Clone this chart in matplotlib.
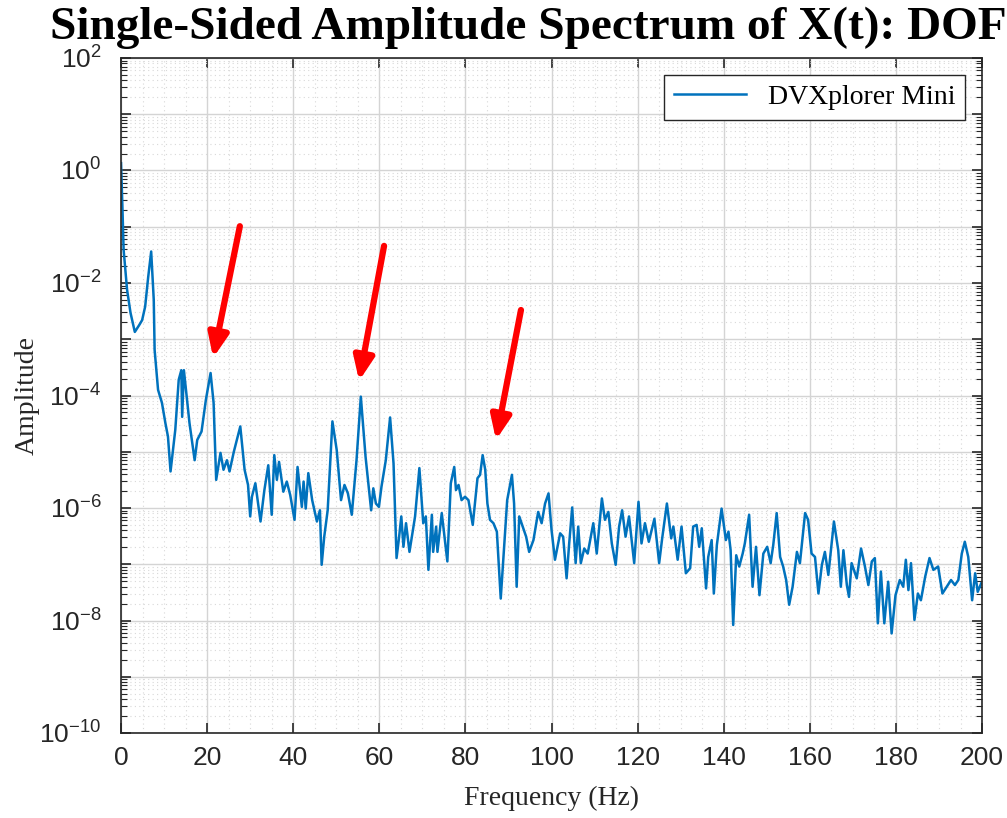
import matplotlib
matplotlib.use('Agg')
import matplotlib.pyplot as plt
import numpy as np
from matplotlib.ticker import MultipleLocator, LogLocator, NullFormatter

plt.rcParams['mathtext.fontset'] = 'custom'
plt.rcParams['mathtext.rm'] = 'Liberation Sans'
plt.rcParams['mathtext.it'] = 'Liberation Sans:italic'

# Frequencia (Hz) e log10 da amplitude
freq = [0.0, 0.3, 0.6, 1.4, 2.2, 3.2, 4.2, 4.9, 5.6, 6.3, 7.0, 7.6, 7.8, 8.6,
        9.5, 10.3, 10.9, 11.5, 12.6, 13.4, 14.0, 14.2, 14.6, 15.9, 17.1, 17.7,
        18.7, 19.7, 20.8, 21.5, 22.1, 23.1, 23.8, 24.6, 25.2, 26.2, 27.7, 28.7,
        29.5, 30.0, 30.4, 31.2, 32.4, 33.3, 34.2, 35.0, 35.6, 36.2, 36.7, 37.7,
        38.5, 39.3, 40.3, 41.0, 42.0, 42.4, 42.9, 43.5, 44.4, 45.5, 46.2, 46.6,
        47.2, 48.0, 49.1, 50.1, 51.1, 51.9, 52.7, 53.6, 54.7, 55.7, 56.8, 58.1,
        58.6, 59.2, 59.9, 60.5, 61.5, 62.5, 63.3, 64.0, 64.6, 65.1, 65.6, 66.2,
        67.0, 68.3, 69.3, 70.2, 70.8, 71.4, 72.2, 72.5, 73.2, 73.5, 74.5, 75.8,
        76.6, 77.4, 77.8, 78.4, 79.1, 79.9, 80.7, 81.7, 82.8, 83.4, 84.0, 84.6,
        85.1, 85.7, 86.5, 87.3, 88.2, 89.0, 89.7, 90.8, 91.3, 91.9, 92.5, 93.3,
        94.1, 94.8, 95.8, 96.9, 97.7, 98.5, 99.3, 100.0, 100.8, 102.0, 102.7,
        103.5, 104.1, 104.8, 105.6, 106.2, 106.8, 107.6, 108.4, 109.7, 110.5,
        111.7, 112.4, 113.2, 114.0, 114.9, 115.7, 116.4, 117.2, 118.0, 119.2,
        120.2, 120.9, 121.7, 122.6, 123.9, 125.0, 125.7, 126.8, 127.8, 128.3,
        129.3, 130.2, 131.2, 132.2, 132.9, 133.7, 134.3, 134.9, 135.9, 136.4,
        137.2, 137.7, 138.4, 139.5, 140.5, 141.1, 141.6, 142.2, 142.9, 143.6,
        144.4, 144.9, 145.9, 146.7, 147.5, 148.3, 149.2, 150.1, 150.9, 151.5,
        152.3, 153.1, 153.8, 154.5, 155.2, 156.0, 157.0, 157.7, 158.9, 159.6,
        160.4, 161.2, 162.0, 162.8, 163.5, 164.3, 165.6, 166.6, 167.2, 167.8,
        168.6, 169.1, 169.7, 170.9, 171.9, 172.8, 173.6, 174.4, 175.1, 175.8,
        176.5, 177.3, 178.2, 179.0, 179.9, 180.9, 181.7, 182.3, 182.9, 183.5,
        184.3, 185.1, 185.8, 186.8, 187.8, 188.7, 189.8, 190.8, 191.8, 192.8,
        193.7, 194.5, 195.3, 196.0, 196.8, 197.7, 198.4, 199.0, 199.8]
log_amp = [0.13, -0.6, -1.41, -2.12, -2.53, -2.87, -2.75, -2.66, -2.42, -1.9, -1.44, -2.30, -3.19, -3.90,
           -4.13, -4.49, -4.73, -5.35, -4.61, -3.72, -3.55, -4.38, -3.55, -4.49, -5.15, -4.79,
           -4.64, -4.08, -3.60, -4.13, -5.50, -5.02, -5.32, -5.15, -5.35, -5.00, -4.55, -5.32,
           -5.59, -6.15, -5.80, -5.56, -6.24, -5.68, -5.24, -6.12, -5.06, -5.50, -5.18, -5.71,
           -5.53, -5.77, -6.21, -5.27, -5.98, -5.53, -6.01, -5.38, -5.86, -6.24, -6.04, -7.01,
           -6.51, -6.04, -4.46, -4.97, -5.86, -5.59, -5.74, -6.12, -5.15, -4.02, -5.09, -6.04,
           -5.65, -5.92, -5.98, -5.62, -5.15, -4.39, -5.21, -6.89, -6.51, -6.15, -6.69, -6.27,
           -6.78, -6.15, -5.29, -6.27, -6.15, -7.10, -6.12, -6.78, -6.33, -6.78, -6.09, -6.95,
           -5.56, -5.27, -5.68, -5.59, -5.86, -5.80, -5.86, -6.30, -5.47, -5.41, -5.06, -5.32,
           -5.92, -6.21, -6.27, -6.42, -7.61, -6.69, -5.86, -5.41, -5.92, -7.40, -6.15, -6.33,
           -6.51, -6.78, -6.57, -6.07, -6.27, -5.92, -5.74, -6.39, -6.92, -6.45, -6.51,
           -7.25, -6.63, -5.99, -6.98, -6.33, -6.98, -6.72, -6.81, -6.27, -6.81,
           -5.83, -6.21, -6.07, -6.63, -7.01, -6.33, -6.04, -6.51, -6.15, -6.98,
           -5.89, -6.63, -6.27, -6.60, -6.19, -6.98, -6.54, -5.92, -6.54, -6.33,
           -6.92, -6.33, -7.16, -7.07, -6.33, -6.30, -6.69, -6.36, -7.43, -6.87,
           -6.57, -7.52, -6.66, -6.01, -6.57, -6.42, -6.75, -8.08, -6.84, -7.04,
           -6.81, -6.63, -6.12, -7.40, -6.69, -7.55, -6.81, -6.69, -6.98, -6.66,
           -6.09, -6.87, -7.04, -7.28, -7.72, -7.40, -6.78, -6.98, -6.09, -6.21,
           -6.81, -6.87, -7.52, -7.01, -6.78, -7.19, -6.24, -6.75, -7.40, -6.75,
           -7.37, -7.58, -6.98, -7.25, -6.72, -7.04, -7.37, -6.95, -6.89, -8.05,
           -7.13, -8.05, -7.31, -8.23, -7.55, -7.28, -7.40, -6.92, -7.46, -6.98,
           -7.99, -7.52, -7.64, -7.22, -6.89, -7.10, -7.04, -7.52, -7.40, -7.28,
           -7.37, -7.28, -6.81, -6.60, -6.87, -7.64, -7.16, -7.49, -7.34]

amp = 10.0 ** np.array(log_amp)

# setas vermelhas: (x_cauda, log_cauda, x_ponta, log_ponta)
setas = [(27.6, -0.99, 21.4, -3.33),
         (61.1, -1.34, 55.3, -3.74),
         (92.9, -2.48, 87.1, -4.79)]

fig = plt.figure(figsize=(10.07, 8.18), dpi=100)
ax = fig.add_axes([0.1202, 0.1039, 0.855, 0.8252])

ax.semilogy(freq, amp, color='#0072BD', lw=1.8, label='DVXplorer Mini')

for xt, lt, xh, lh in setas:
    ax.annotate('', xy=(xh, 10 ** lh), xytext=(xt, 10 ** lt),
                arrowprops=dict(arrowstyle='-|>,head_length=1.4,head_width=0.6',
                                color='#ff0000', lw=4.5, shrinkA=0, shrinkB=0))

ax.set_xlim(0, 200)
ax.set_ylim(1e-10, 1e2)
ax.xaxis.set_major_locator(MultipleLocator(20))
ax.xaxis.set_minor_locator(MultipleLocator(5))
ax.yaxis.set_major_locator(LogLocator(base=10, subs=(1.0,), numticks=20))
ax.yaxis.set_major_formatter(matplotlib.ticker.FuncFormatter(
    lambda v, p: r'$10^{%d}$' % round(np.log10(v)) if round(np.log10(v)) % 2 == 0 else ''))
ax.yaxis.set_minor_locator(LogLocator(base=10, subs=np.arange(2, 10), numticks=20))
ax.yaxis.set_minor_formatter(NullFormatter())

ax.grid(True, which='major', color='#d4d4d4', lw=1.0)
ax.grid(True, which='minor', color='#d8d8d8', lw=0.8, linestyle=(0, (1, 3)))
ax.tick_params(which='both', direction='in', top=True, right=True, labelsize=19,
               colors='#262626')
ax.tick_params(which='major', length=7, width=1.2)
ax.tick_params(which='minor', length=4, width=0.8)
ax.tick_params(axis='x', which='minor', length=0)
ax.tick_params(axis='x', which='major', pad=9)
ax.tick_params(axis='y', which='major', pad=14)
for s in ax.spines.values():
    s.set_color('#262626')
    s.set_linewidth(1.2)
for lab in ax.get_xticklabels():
    lab.set_fontfamily('Liberation Sans')

ax.set_xlabel('Frequency (Hz)', family='Liberation Serif', fontsize=20, color='#262626',
              labelpad=12)
ax.set_ylabel('Amplitude', family='Liberation Serif', fontsize=20, color='#262626',
              labelpad=0)

leg = ax.legend(loc='upper right', prop={'family': 'Liberation Serif', 'size': 20},
                fancybox=False, framealpha=1, edgecolor='#262626',
                handlelength=2.6, borderaxespad=0.6, borderpad=0.35)
leg.get_frame().set_linewidth(1.0)

fig.text(0.05, 1 - 39 / 818, 'Single-Sided Amplitude Spectrum of X(t): DOF',
         family='Liberation Serif', weight='bold', fontsize=34, ha='left', va='baseline')

fig.savefig('out.png', dpi=100)
